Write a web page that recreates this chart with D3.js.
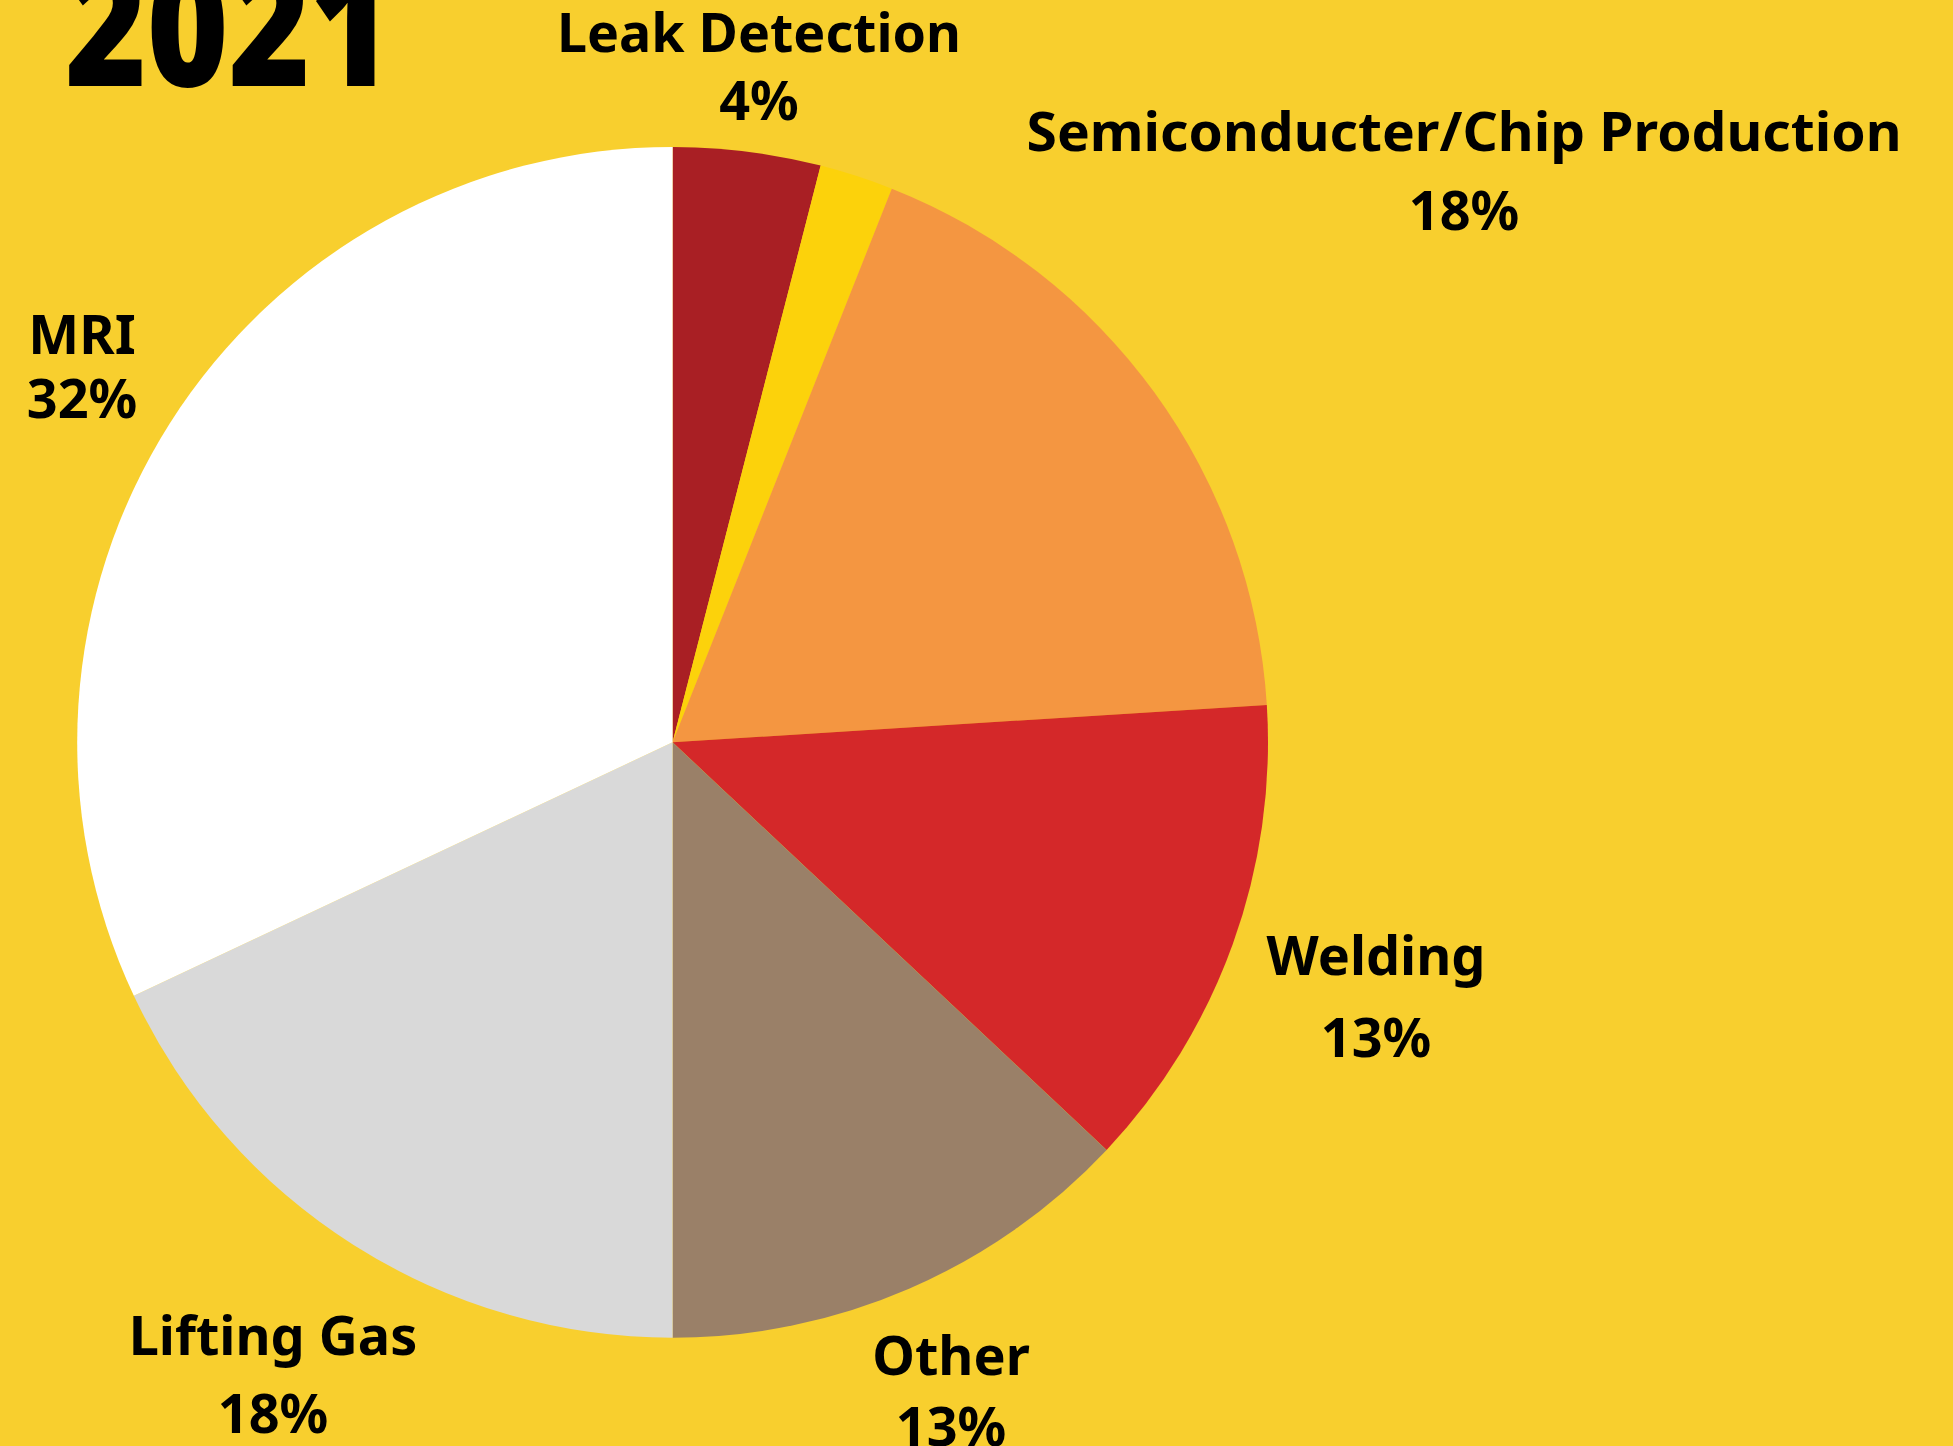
<!DOCTYPE html>
<html>
<head>
<meta charset="utf-8">
<script src="https://cdn.jsdelivr.net/npm/d3@7"></script>
<style>
  html, body { margin: 0; padding: 0; background: #F8CF2E; }
  svg { display: block; }
  text { font-family: "Noto Sans", "Open Sans", sans-serif; font-weight: 700; fill: #000; }
</style>
</head>
<body>
<div id="chart"></div>
<script>
// data, clockwise from 12 o'clock
const categories = ["Leak Detection", "", "Semiconducter/Chip Production", "Welding", "Other", "Lifting Gas", "MRI"];
const shares = [4, 2, 18, 13, 13, 18, 32];
const colors = ["#A91F24", "#FCD20B", "#F49641", "#D42829", "#9A8068", "#D9D9D9", "#FFFFFF"];
const title = "2021";

// where each label block sits (x centre, baseline of name, baseline of %)
const labelPos = [
    {x: 759, y1: 52, y2: 120, w: 404},
    null,
    {x: 1464, y1: 151, y2: 230, w: 875},
    {x: 1376, y1: 975, y2: 1057},
    {x: 951, y1: 1375, y2: 1446},
    {x: 273, y1: 1355, y2: 1433},
    {x: 82, y1: 354, y2: 418}
];

const width = 1953, height = 1446;
const cx = 672.6, cy = 742.3, radius = 595.4;

let svg = d3.select("#chart").append("svg")
    .attr("width", width)
    .attr("height", height);

svg.append("rect")
    .attr("width", width)
    .attr("height", height)
    .attr("fill", "#F8CF2E");

let data = categories.map(function(c, i) { return {name: c, value: shares[i], color: colors[i], pos: labelPos[i]}; });

let pie = d3.pie()
    .sort(null)
    .value(function(d) { return d.value; });

let arc = d3.arc()
    .innerRadius(0)
    .outerRadius(radius);

let g = svg.append("g").attr("transform", "translate(" + cx + "," + cy + ")");

g.selectAll("path")
    .data(pie(data))
    .enter().append("path")
    .attr("d", arc)
    .attr("fill", function(d) { return d.data.color; });

// labels
let labels = svg.append("g")
    .selectAll("g")
    .data(data.filter(function(d) { return d.pos; }))
    .enter().append("g");

labels.append("text")
    .attr("x", function(d) { return d.pos.x; })
    .attr("y", function(d) { return d.pos.y1; })
    .attr("text-anchor", "middle")
    .style("font-size", "54px")
    .each(function(d) {
        if (d.pos.w) {
            d3.select(this).attr("textLength", d.pos.w).attr("lengthAdjust", "spacingAndGlyphs");
        }
    })
    .text(function(d) { return d.name; });

labels.append("text")
    .attr("x", function(d) { return d.pos.x; })
    .attr("y", function(d) { return d.pos.y2; })
    .attr("text-anchor", "middle")
    .style("font-size", "54px")
    .text(function(d) { return d.value + "%"; });

svg.append("text")
    .attr("x", 65)
    .attr("y", 86)
    .attr("textLength", 327)
    .attr("lengthAdjust", "spacingAndGlyphs")
    .style("font-size", "165px")
    .style("font-weight", 900)
    .text(title);
</script>
</body>
</html>
